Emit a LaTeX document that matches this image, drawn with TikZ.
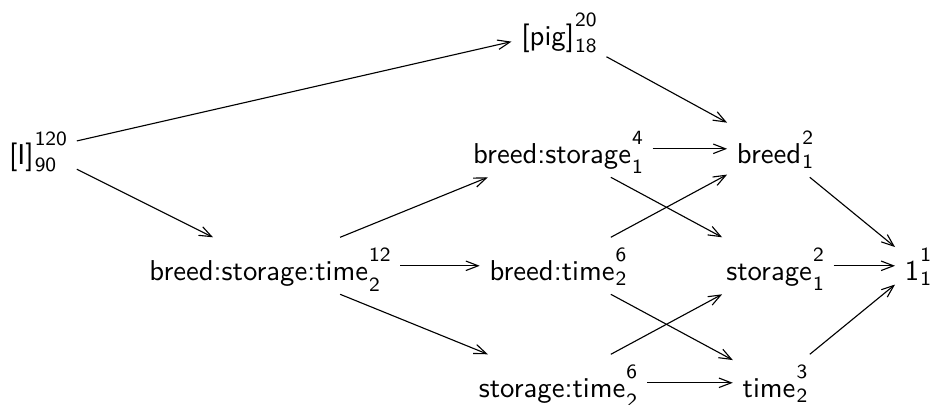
\documentclass[tikz,border=0pt]{standalone}
\renewcommand{\familydefault}{\sfdefault}
\usetikzlibrary{arrows.meta}
% term label: base text with a count below (sub) and above (sup);
% optional argument = how far the lower count drops below the baseline
\newcommand{\cnt}[4][1.5pt]{#2\kern0.4pt{\fontsize{7.2}{8}\selectfont
  \setbox0=\hbox{#4}\setbox2=\hbox{#3}%
  \ifdim\wd0>\wd2 \dimen0=\wd0 \else \dimen0=\wd2 \fi
  \rlap{\raisebox{6.8pt}{\box0}}\rlap{\raisebox{-#1}{\box2}}\hspace*{\dimen0}}}
\begin{document}
\begin{tikzpicture}[x=0.357pt,y=-0.357pt,
  term/.style={anchor=base,inner xsep=0.333em,inner ysep=3.3pt,
    text height=12.1pt,text depth=1.25pt,font=\fontsize{10.25}{12}\selectfont},
  link/.style={-{Straight Barb[length=4.4pt,width=3.4pt]},line width=0.4pt}]
\useasboundingbox (0,0) rectangle (932,405);
\node[term] (I)    at (38,165)  {\cnt[2.5pt]{[I]}{90}{120}};
\node[term] (pig)  at (559,46)  {\cnt[2.5pt]{[pig]}{18}{20}};
\node[term] (bs)   at (558,164) {\cnt[3.4pt]{breed:storage}{1}{4}};
\node[term] (br)   at (775,164) {\cnt{breed}{1}{2}};
\node[term] (bst)  at (270,281) {\cnt[3.8pt]{breed:storage:time}{2}{12}};
\node[term] (bt)   at (558,281) {\cnt{breed:time}{2}{6}};
\node[term] (sto)  at (775,281) {\cnt[3.4pt]{storage}{1}{2}};
\node[term] (one)  at (918,281) {\cnt{1}{1}{1}};
\node[term] (st)   at (558,398) {\cnt[3.4pt]{storage:time}{2}{6}};
\node[term] (ti)   at (775,398) {\cnt{time}{2}{3}};
\draw[link] (I) -- (pig);
\draw[link] (I) -- (bst);
\draw[link] (pig) -- (br);
\draw[link] (bst) -- (bs);
\draw[link] (bst) -- (bt);
\draw[link] (bst) -- (st);
\draw[link] (bs) -- (br);
\draw[link] (bs) -- (sto);
\draw[link] (bt) -- (br);
\draw[link] (bt) -- (ti);
\draw[link] (st) -- (sto);
\draw[link] (st) -- (ti);
\draw[link] (br) -- (one);
\draw[link] (sto) -- (one);
\draw[link] (ti) -- (one);
\end{tikzpicture}
\end{document}
